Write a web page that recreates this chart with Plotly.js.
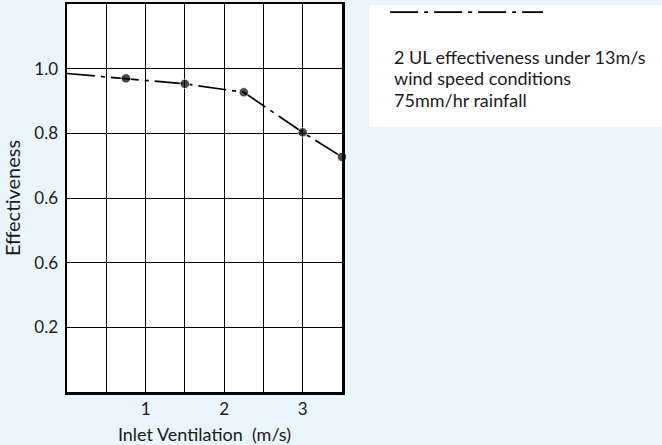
<!DOCTYPE html>
<html>
<head>
<meta charset="utf-8">
<script src="https://cdn.plot.ly/plotly-3.0.1.min.js"></script>
<style>
html,body{margin:0;padding:0;background:#eaf6fb;}
#chart{width:662px;height:445px;}
</style>
</head>
<body>
<div id="chart"></div>
<script>
// Data
const inletVentilation = [0, 0.75, 1.5, 2.25, 3.0, 3.5];
const effectiveness = [0.985, 0.970, 0.953, 0.927, 0.803, 0.727];
const markerShown = [false, true, true, true, true, true];

const xTickVals = [0, 0.5, 1, 1.5, 2, 2.5, 3, 3.5];
const xTickText = ['', '', '1', '', '2', '', '3', ''];
const yTickVals = [0, 0.2, 0.4, 0.6, 0.8, 1.0, 1.2];
const yTickText = ['', '0.2', '0.6', '0.6', '0.8', '1.0', ''];

const legendLines = ['2 UL effectiveness under 13m/s', 'wind speed conditions', '75mm/hr rainfall'];

const FONT = 'Lato, "Open Sans", sans-serif';
const BG = '#eaf6fb';
const TXT = '#1a1a1a';
const DASH = '28px,6px,4px,6px';

const trace = {
  x: inletVentilation,
  y: effectiveness,
  mode: 'lines+markers',
  line: {color: '#000', width: 1.7, dash: DASH},
  marker: {color: '#000', size: markerShown.map(s => s ? 9.5 : 0)},
  hoverinfo: 'none',
  showlegend: false,
  cliponaxis: false
};

// legend text lines, vertical centres in paper units
const legendY = [0.864, 0.809, 0.753];
const annotations = legendLines.map((t, i) => ({
  xref: 'paper', yref: 'paper',
  x: 1.182, y: legendY[i], xanchor: 'left', yanchor: 'middle',
  align: 'left', showarrow: false, text: t,
  font: {family: FONT, size: 18, color: TXT}
}));

const layout = {
  width: 662,
  height: 445,
  margin: {l: 67, r: 320, t: 4, b: 53, pad: 0},
  paper_bgcolor: BG,
  plot_bgcolor: '#ffffff',
  font: {family: FONT, size: 17, color: TXT},
  xaxis: {
    range: [0, 3.5],
    tickmode: 'array',
    tickvals: xTickVals,
    ticktext: xTickText,
    ticks: '',
    showgrid: true,
    gridcolor: '#000',
    gridwidth: 1,
    zeroline: false,
    showline: true,
    mirror: true,
    linecolor: '#000',
    linewidth: 2.5,
    tickfont: {family: FONT, size: 17, color: TXT},
    title: {text: 'Inlet Ventilation  (m/s)', font: {family: FONT, size: 18, color: TXT}, standoff: 19},
    fixedrange: true
  },
  yaxis: {
    range: [0, 1.2],
    tickmode: 'array',
    tickvals: yTickVals,
    ticktext: yTickText,
    ticks: '',
    ticklabelstandoff: 3,
    showgrid: true,
    gridcolor: '#000',
    gridwidth: 1,
    zeroline: false,
    showline: true,
    mirror: true,
    linecolor: '#000',
    linewidth: 2.5,
    tickfont: {family: FONT, size: 17, color: TXT},
    title: {text: 'Effectiveness', font: {family: FONT, size: 20, color: TXT}, standoff: 12},
    fixedrange: true
  },
  shapes: [
    {type: 'rect', xref: 'paper', yref: 'paper',
     x0: 1.098, x1: 2.2, y0: 0.683, y1: 0.997,
     fillcolor: '#ffffff', line: {width: 0}, layer: 'below'},
    {type: 'line', xref: 'paper', yref: 'paper',
     x0: 1.175, x1: 1.731, y0: 0.979, y1: 0.979,
     line: {color: '#000', width: 1.7, dash: DASH}}
  ],
  annotations: annotations
};

Plotly.newPlot('chart', [trace], layout, {displayModeBar: false, staticPlot: true});
</script>
</body>
</html>
